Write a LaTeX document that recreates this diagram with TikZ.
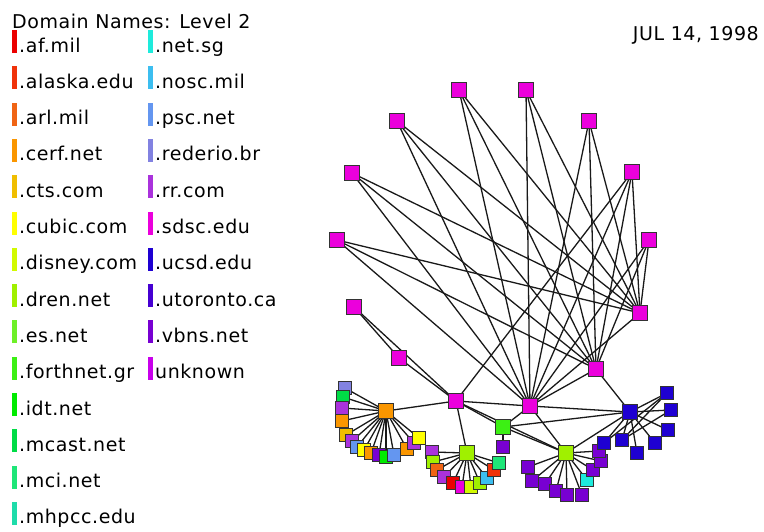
\documentclass[tikz,border=0pt]{standalone}
\usepackage{fontspec}
\setmainfont[LetterSpace=3]{DejaVu Sans}
\usepackage{tikz}
\usepackage{tkz-euclide}
\definecolor{afmil}{RGB}{235,0,0}
\definecolor{alaska}{RGB}{240,50,10}
\definecolor{arlmil}{RGB}{240,100,20}
\definecolor{cerf}{RGB}{250,150,0}
\definecolor{cts}{RGB}{240,190,0}
\definecolor{cubic}{RGB}{255,255,0}
\definecolor{disney}{RGB}{210,250,0}
\definecolor{dren}{RGB}{160,240,0}
\definecolor{esnet}{RGB}{110,240,40}
\definecolor{forthnet}{RGB}{60,240,20}
\definecolor{idt}{RGB}{0,235,0}
\definecolor{mcast}{RGB}{0,220,70}
\definecolor{mci}{RGB}{30,230,120}
\definecolor{mhpcc}{RGB}{30,220,170}
\definecolor{netsg}{RGB}{30,235,220}
\definecolor{nosc}{RGB}{60,190,240}
\definecolor{psc}{RGB}{100,150,240}
\definecolor{rederio}{RGB}{130,130,225}
\definecolor{rrcom}{RGB}{170,50,220}
\definecolor{sdsc}{RGB}{235,0,220}
\definecolor{ucsd}{RGB}{30,0,210}
\definecolor{utoronto}{RGB}{70,0,210}
\definecolor{vbns}{RGB}{120,0,210}
\definecolor{unknown}{RGB}{200,0,235}

\begin{document}
\begin{tikzpicture}[
  x=1pt, y=-1pt,
  link/.style = {line width=1.3pt, black!90},
  box/.style = {draw=black!80, line width=1pt, inner sep=0pt,
    minimum size=14.5pt, fill=#1},
  box/.default = sdsc,
  leaf/.style = {box=#1, minimum size=13pt},
  legtext/.style = {anchor=base west, inner sep=0pt,
    font=\fontsize{19}{22}\selectfont},
]
  \useasboundingbox (0,0) rectangle (764,531);

  % legend
  \node[legtext] (title) at (12,28) {Domain Names: Level 2};
  \node[legtext, anchor=base east] (date) at (759,40) {JUL 14, 1998};
  \foreach \name/\col [count=\i from 0] in {.af.mil/afmil, .alaska.edu/alaska,
    .arl.mil/arlmil, .cerf.net/cerf, .cts.com/cts, .cubic.com/cubic,
    .disney.com/disney, .dren.net/dren, .es.net/esnet, .forthnet.gr/forthnet,
    .idt.net/idt, .mcast.net/mcast, .mci.net/mci, .mhpcc.edu/mhpcc} {
    \fill[\col] (12,{30+36.3*\i}) rectangle (17,{53+36.3*\i});
    \node[legtext] (left\i) at (19,{52+36.3*\i}) {\name};
  }
  \foreach \name/\col [count=\i from 0] in {.net.sg/netsg, .nosc.mil/nosc,
    .psc.net/psc, .rederio.br/rederio, .rr.com/rrcom, .sdsc.edu/sdsc,
    .ucsd.edu/ucsd, .utoronto.ca/utoronto, .vbns.net/vbns, unknown/unknown} {
    \fill[\col] (148,{30+36.3*\i}) rectangle (153,{53+36.3*\i});
    \node[legtext] (right\i) at (155,{52+36.3*\i}) {\name};
  }

  % outer ring
  \tkzDefPoint(459,90){sA}
  \tkzDefPoint(526,90){sB}
  \tkzDefPoint(397,121){sC}
  \tkzDefPoint(589,121){sD}
  \tkzDefPoint(352,173){sE}
  \tkzDefPoint(632,172){sF}
  \tkzDefPoint(337,240){sG}
  \tkzDefPoint(649,240){sH}
  \tkzDefPoint(354,307){sI}
  \tkzDefPoint(640,313){sJ}
  \tkzDefPoint(399,358){sK}
  \tkzDefPoint(596,369){sL}

  % hubs
  \tkzDefPoint(456,401){h1}
  \tkzDefPoint(530,406){h2}
  \tkzDefPoint(386,411){ho}
  \tkzDefPoint(503,427){hg}
  \tkzDefPoint(503,447){hp}
  \tkzDefPoint(467,453){hl}
  \tkzDefPoint(566,453){hm}
  \tkzDefPoint(630,412){hb}

  % leaves of the orange hub
  \tkzDefPoint(345,388){o1}
  \tkzDefPoint(343,397){o2}
  \tkzDefPoint(342,408){o3}
  \tkzDefPoint(342,421){o4}
  \tkzDefPoint(346,435){o5}
  \tkzDefPoint(352,441){o6}
  \tkzDefPoint(357,447){o7}
  \tkzDefPoint(364,450){o8}
  \tkzDefPoint(371,453){o9}
  \tkzDefPoint(379,455){o10}
  \tkzDefPoint(386,457){o11}
  \tkzDefPoint(394,455){o12}
  \tkzDefPoint(407,449){o13}
  \tkzDefPoint(414,443){o14}
  \tkzDefPoint(419,438){o15}

  % leaves of the lower lime hub
  \tkzDefPoint(432,452){l1}
  \tkzDefPoint(433,462){l2}
  \tkzDefPoint(437,470){l3}
  \tkzDefPoint(444,477){l4}
  \tkzDefPoint(453,483){l5}
  \tkzDefPoint(462,487){l6}
  \tkzDefPoint(471,487){l7}
  \tkzDefPoint(480,483){l8}
  \tkzDefPoint(487,478){l9}
  \tkzDefPoint(494,470){l10}
  \tkzDefPoint(499,463){l11}

  % leaves of the right lime hub
  \tkzDefPoint(528,467){m1}
  \tkzDefPoint(532,481){m2}
  \tkzDefPoint(545,484){m3}
  \tkzDefPoint(556,491){m4}
  \tkzDefPoint(567,495){m5}
  \tkzDefPoint(582,495){m6}
  \tkzDefPoint(587,480){m7}
  \tkzDefPoint(593,470){m8}
  \tkzDefPoint(601,461){m9}
  \tkzDefPoint(599,451){m10}

  % leaves of the blue hub
  \tkzDefPoint(667,393){b1}
  \tkzDefPoint(671,410){b2}
  \tkzDefPoint(668,430){b3}
  \tkzDefPoint(655,443){b4}
  \tkzDefPoint(637,453){b5}
  \tkzDefPoint(622,440){b6}
  \tkzDefPoint(604,443){b7}

  \tkzDrawSegments[link](sA,h2 sA,sL sA,sJ sB,h2 sB,sL sB,sJ sC,h2 sC,sL sC,sJ
    sD,h2 sD,sL sD,sJ sE,h2 sE,sL sE,sJ sF,h2 sF,sL sF,sJ sG,h2 sG,sL sG,sJ
    sH,h2 sH,sL sH,sJ sJ,h2 sL,h2 sF,h1 sI,h1 sI,sK sK,h1)
  \tkzDrawSegments[link](ho,h1 h1,h2 h1,hg h1,hl h1,hm h2,hg h2,hm h2,hb
    hg,hb hg,hm hg,hp sL,hb hm,hb)
  \foreach \i in {1,...,15} \tkzDrawSegment[link](ho,o\i);
  \foreach \i in {1,...,11} \tkzDrawSegment[link](hl,l\i);
  \foreach \i in {1,...,10} \tkzDrawSegment[link](hm,m\i);
  \foreach \i in {1,...,7} \tkzDrawSegment[link](hb,b\i);
  \tkzDrawSegments[link](b1,b6 b1,b7 b2,b6)

  \foreach \p in {sA,sB,sC,sD,sE,sF,sG,sH,sI,sJ,sK,sL,h1,h2}
    \node[box] (n\p) at (\p) {};
  \foreach \p/\c in {ho/cerf, hg/forthnet, hl/dren, hm/dren, hb/ucsd}
    \node[box=\c] (n\p) at (\p) {};
  \node[leaf=vbns] (nhp) at (hp) {};
  \foreach \p/\c in {o1/rederio, o2/mcast, o3/rrcom, o4/cerf, o5/cts,
    o6/rrcom, o7/psc, o8/cubic, o9/cerf, o10/vbns, o11/idt, o12/psc,
    o13/cerf, o14/rrcom, o15/cubic,
    l1/rrcom, l2/dren, l3/arlmil, l4/rrcom, l5/afmil, l6/sdsc, l7/disney,
    l8/dren, l9/nosc, l10/alaska, l11/mci,
    m1/vbns, m2/vbns, m3/vbns, m4/vbns, m5/vbns, m6/vbns, m7/netsg,
    m8/vbns, m9/vbns, m10/vbns,
    b1/ucsd, b2/ucsd, b3/ucsd, b4/ucsd, b5/ucsd, b6/ucsd, b7/ucsd}
    \node[leaf=\c] (n\p) at (\p) {};

\end{tikzpicture}
\end{document}
